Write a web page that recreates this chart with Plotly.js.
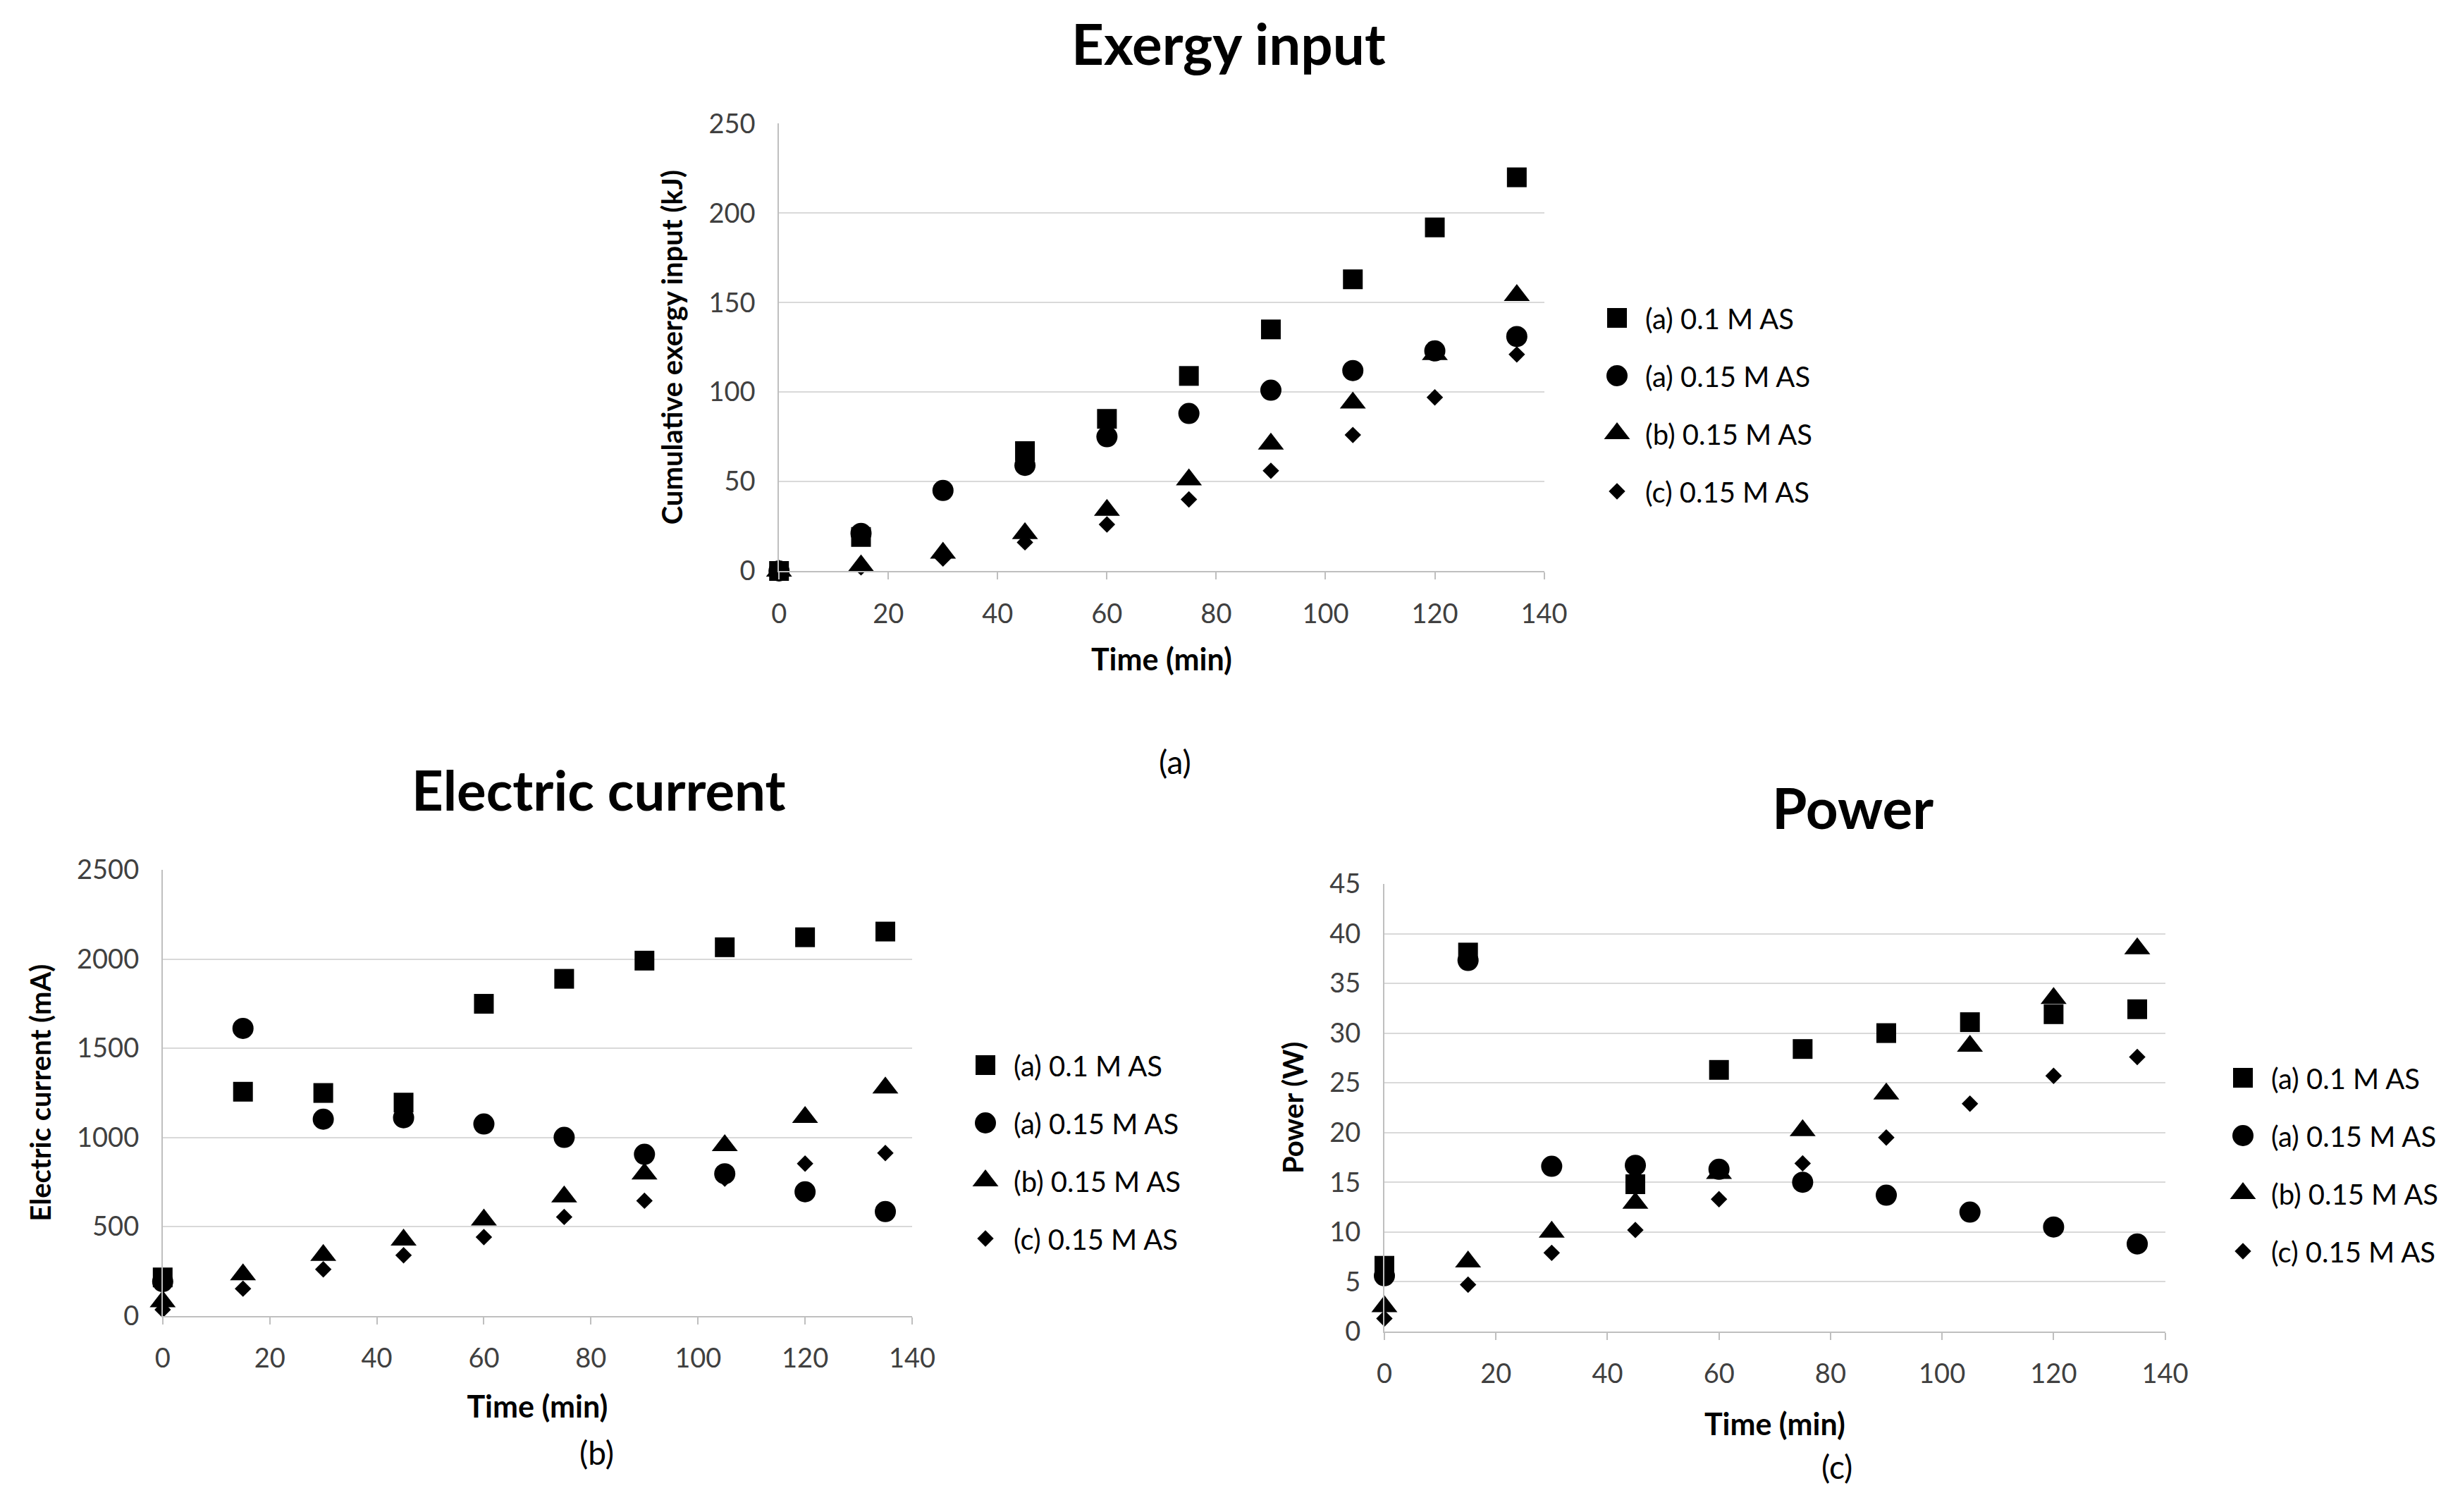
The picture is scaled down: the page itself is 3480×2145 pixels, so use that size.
<!DOCTYPE html>
<html>
<head>
<meta charset="utf-8">
<script src="https://cdn.plot.ly/plotly-3.0.1.min.js"></script>
<style>
html,body{margin:0;padding:0;background:#fff;overflow:hidden;}
#wrap{width:3480px;height:2145px;overflow:hidden;}
#chart{width:1740px;height:1072px;transform:scale(2);transform-origin:0 0;}
</style>
</head>
<body>
<div id="wrap"><div id="chart"></div></div>
<script>
// ---- data ----
const time = [0, 15, 30, 45, 60, 75, 90, 105, 120, 135];
const seriesNames = ['(a) 0.1 M AS', '(a) 0.15 M AS', '(b) 0.15 M AS', '(c) 0.15 M AS'];

const exergyA01  = [0, 19, null, 67, 85, 109, 135, 163, 192, 220];
const exergyA015 = [0, 21, 45, 59, 75, 88, 101, 112, 123, 131];
const exergyB015 = [0, 3, 10, 21, 34, 51, 71, 94, 121, 154];
const exergyC015 = [0, 2, 7, 16, 26, 40, 56, 76, 97, 121];

const currentA01  = [215, 1256, 1249, 1195, 1749, 1889, 1991, 2066, 2122, 2154];
const currentA015 = [192, 1611, 1102, 1110, 1075, 1000, 905, 796, 695, 584];
const currentB015 = [79, 231, 339, 425, 538, 667, 796, 955, 1113, 1278];
const currentC015 = [34, 152, 260, 339, 441, 554, 645, 769, 853, 912];

const powerA01  = [6.6, 38.1, null, 14.8, 26.3, 28.4, 30.0, 31.1, 31.9, 32.4];
const powerA015 = [5.6, 37.3, 16.6, 16.7, 16.3, 15.0, 13.7, 12.0, 10.5, 8.8];
const powerB015 = [2.5, 7.0, 10.0, 12.9, 15.9, 20.2, 23.9, 28.7, 33.5, 38.5];
const powerC015 = [1.3, 4.7, 7.9, 10.2, 13.3, 16.9, 19.5, 22.9, 25.7, 27.6];

const xTicks = [0, 20, 40, 60, 80, 100, 120, 140];

// ---- styling ----
const FONT = 'Lato, "Open Sans", sans-serif';
const symbols = ['square', 'circle', 'triangle-up', 'diamond'];
const sizes = [14, 15, 16, 9];

function makeTraces(ys, xa, ya, legendId, groupPrefix) {
  return ys.map((y, i) => ({
    type: 'scatter', mode: 'markers',
    x: time, y: y, xaxis: xa, yaxis: ya,
    name: seriesNames[i],
    legend: legendId,
    legendgroup: groupPrefix + i,
    cliponaxis: false,
    marker: {symbol: symbols[i], size: sizes[i], color: '#000'},
    hoverinfo: 'skip'
  }));
}

const traces = [].concat(
  makeTraces([exergyA01, exergyA015, exergyB015, exergyC015], 'x', 'y', 'legend', 'e'),
  makeTraces([currentA01, currentA015, currentB015, currentC015], 'x2', 'y2', 'legend2', 'c'),
  makeTraces([powerA01, powerA015, powerB015, powerC015], 'x3', 'y3', 'legend3', 'p')
);

const W = 1740, H = 1072;
function xdom(l, r) { return [l / W, r / W]; }
function ydom(b, t) { return [1 - b / H, 1 - t / H]; }

function xAxis(dom, anchor, standoff) {
  return {
    domain: dom, anchor: anchor, range: [0, 140], tickvals: xTicks,
    showgrid: false, zeroline: false, showline: true, linecolor: '#bfbfbf', linewidth: 1,
    ticks: 'outside', ticklen: 5, tickcolor: '#bfbfbf',
    ticklabelstandoff: 8,
    tickfont: {family: FONT, size: 19, color: '#404040'},
    title: {text: 'Time (min)', font: {family: FONT, size: 21.5, color: '#000', weight: 'bold'}, standoff: standoff}
  };
}
function yAxis(dom, anchor, range, dtick, title, standoff) {
  return {
    domain: dom, anchor: anchor, range: range, dtick: dtick, tick0: 0,
    showgrid: true, gridcolor: '#d9d9d9', gridwidth: 1,
    zeroline: false, showline: true, linecolor: '#bfbfbf', linewidth: 1,
    ticks: '', ticklabelstandoff: 12,
    tickfont: {family: FONT, size: 19, color: '#404040'},
    title: {text: title, font: {family: FONT, size: 20, color: '#000', weight: 'bold'}, standoff: standoff}
  };
}
function legendAt(x, y) {
  return {
    x: x, y: y, xanchor: 'left', yanchor: 'top', xref: 'paper', yref: 'paper',
    font: {family: FONT, size: 20, color: '#000'},
    bgcolor: 'rgba(0,0,0,0)', tracegroupgap: 12, itemsizing: 'trace', itemwidth: 30
  };
}

const layout = {
  width: W, height: H,
  margin: {l: 0, r: 0, t: 0, b: 0},
  paper_bgcolor: '#fff', plot_bgcolor: '#fff',
  showlegend: true,
  font: {family: FONT, color: '#000'},
  xaxis: xAxis(xdom(552.6, 1095.3), 'y', 15),
  yaxis: yAxis(ydom(405, 87.7), 'x', [0, 250], 50, 'Cumulative exergy input (kJ)', 12),
  xaxis2: xAxis(xdom(115.4, 647), 'y2', 17),
  yaxis2: yAxis(ydom(933.3, 617), 'x2', [0, 2500], 500, 'Electric current (mA)', 12),
  xaxis3: xAxis(xdom(982, 1535.8), 'y3', 18),
  yaxis3: yAxis(ydom(944.4, 627), 'x3', [0, 45], 5, 'Power (W)', 12),
  legend: legendAt(1127 / W, 1 - 206 / H),
  legend2: legendAt(679 / W, 1 - 736 / H),
  legend3: legendAt(1571 / W, 1 - 745 / H),
  annotations: [
    {text: '<b>Exergy input</b>', x: 871 / W, y: 1 - 31 / H, xref: 'paper', yref: 'paper', showarrow: false,
     xanchor: 'center', yanchor: 'middle', font: {family: FONT, size: 40, color: '#000'}},
    {text: '<b>Electric current</b>', x: 425 / W, y: 1 - 560 / H, xref: 'paper', yref: 'paper', showarrow: false,
     xanchor: 'center', yanchor: 'middle', font: {family: FONT, size: 39, color: '#000'}},
    {text: '<b>Power</b>', x: 1314 / W, y: 1 - 572.6 / H, xref: 'paper', yref: 'paper', showarrow: false,
     xanchor: 'center', yanchor: 'middle', font: {family: FONT, size: 40, color: '#000'}},
    {text: '(a)', x: 833 / W, y: 1 - 540 / H, xref: 'paper', yref: 'paper', showarrow: false,
     xanchor: 'center', yanchor: 'middle', font: {family: FONT, size: 23, color: '#000'}},
    {text: '(b)', x: 423 / W, y: 1 - 1030 / H, xref: 'paper', yref: 'paper', showarrow: false,
     xanchor: 'center', yanchor: 'middle', font: {family: FONT, size: 23, color: '#000'}},
    {text: '(c)', x: 1303 / W, y: 1 - 1040 / H, xref: 'paper', yref: 'paper', showarrow: false,
     xanchor: 'center', yanchor: 'middle', font: {family: FONT, size: 23, color: '#000'}}
  ]
};

Plotly.newPlot('chart', traces, layout, {displayModeBar: false, staticPlot: true});
</script>
</body>
</html>
